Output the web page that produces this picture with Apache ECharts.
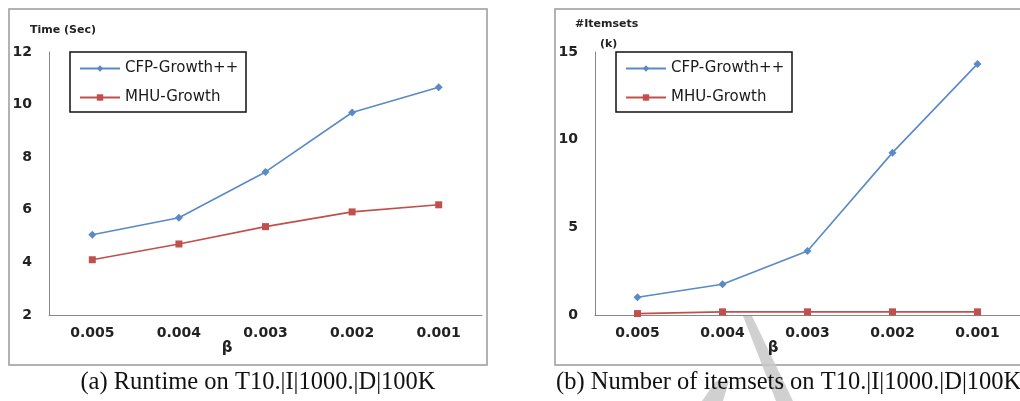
<!DOCTYPE html>
<html>
<head>
<meta charset="utf-8">
<script src="https://cdn.jsdelivr.net/npm/echarts@6/dist/echarts.min.js"></script>
<style>
html,body{margin:0;padding:0;background:#fff;}
#c{width:1020px;height:401px;}
</style>
</head>
<body>
<div id="c"></div>
<script>
const categories = ['0.005', '0.004', '0.003', '0.002', '0.001'];
const seriesNames = ['CFP-Growth++', 'MHU-Growth'];
const runtimeCFP = [5.05, 5.70, 7.44, 9.70, 10.66];
const runtimeMHU = [4.10, 4.70, 5.36, 5.92, 6.19];
const itemsetsCFP = [1.01, 1.75, 3.65, 9.26, 14.32];
const itemsetsMHU = [0.08, 0.18, 0.18, 0.18, 0.18];
const captionA = '(a) Runtime on T10.|I|1000.|D|100K';
const captionB = '(b) Number of itemsets on T10.|I|1000.|D|100K';

const BLUE = '#5A8AC6', RED = '#C0504D', AXIS = '#888888', TXT = '#222222';
const tickFont = {fontFamily: 'DejaVu Sans', fontWeight: 'bold', fontSize: 14, color: TXT};

function xAxis(gi) {
  return {
    type: 'category', gridIndex: gi, data: categories, boundaryGap: true,
    axisLine: {lineStyle: {color: AXIS, width: 1}}, axisTick: {show: false},
    axisLabel: Object.assign({margin: 11, interval: 0}, tickFont)
  };
}
function yAxis(gi, min, max, interval) {
  return {
    type: 'value', gridIndex: gi, min: min, max: max, interval: interval,
    axisLine: {show: true, lineStyle: {color: AXIS, width: 1}}, axisTick: {show: false},
    splitLine: {show: false},
    axisLabel: Object.assign({margin: 17}, tickFont)
  };
}
function line(name, data, gi, color, symbol, size) {
  return {
    name: name, type: 'line', xAxisIndex: gi, yAxisIndex: gi, data: data,
    symbol: symbol, symbolSize: size, color: color,
    lineStyle: {color: color, width: 1.6}, itemStyle: {color: color},
    animation: false
  };
}
function legend(left) {
  return {
    data: seriesNames, orient: 'vertical', left: left, top: 61, padding: 0,
    itemWidth: 40, itemHeight: 8, itemGap: 14, itemTextGap: 4,
    textStyle: {fontFamily: 'DejaVu Sans', fontSize: 15, color: '#1a1a1a'},
    selectedMode: false
  };
}
const chart = echarts.init(document.getElementById('c'), null, {renderer: 'canvas'});
chart.setOption({
  backgroundColor: '#ffffff',
  animation: false,
  grid: [
    {left: 49, top: 52, width: 433, height: 263},
    {left: 595, top: 52, width: 432, height: 263}
  ],
  xAxis: [xAxis(0), xAxis(1)],
  yAxis: [yAxis(0, 2, 12, 2), yAxis(1, 0, 15, 5)],
  legend: [legend(79), legend(625)],
  series: [
    line(seriesNames[0], runtimeCFP, 0, BLUE, 'diamond', 8),
    line(seriesNames[1], runtimeMHU, 0, RED, 'rect', 7),
    line(seriesNames[0], itemsetsCFP, 1, BLUE, 'diamond', 8),
    line(seriesNames[1], itemsetsMHU, 1, RED, 'rect', 7)
  ],
  graphic: [
    {type: 'rect', shape: {x: 9, y: 9, width: 478, height: 356}, style: {fill: 'none', stroke: '#999', lineWidth: 1.5}, z: 1},
    {type: 'rect', shape: {x: 555, y: 9, width: 480, height: 356}, style: {fill: 'none', stroke: '#999', lineWidth: 1.5}, z: 1},
    {type: 'rect', shape: {x: 70, y: 52, width: 176, height: 60}, style: {fill: 'none', stroke: '#111', lineWidth: 1.5}, z: 5},
    {type: 'rect', shape: {x: 616, y: 52, width: 176, height: 60}, style: {fill: 'none', stroke: '#111', lineWidth: 1.5}, z: 5},
    {type: 'text', x: 30, y: 30, style: {text: 'Time (Sec)', fontFamily: 'DejaVu Sans', fontWeight: 'bold', fontSize: 11, fill: TXT, verticalAlign: 'middle'}, z: 5},
    {type: 'text', x: 575, y: 24, style: {text: '#Itemsets', fontFamily: 'DejaVu Sans', fontWeight: 'bold', fontSize: 11, fill: TXT, verticalAlign: 'middle'}, z: 5},
    {type: 'text', x: 600, y: 44, style: {text: '(k)', fontFamily: 'DejaVu Sans', fontWeight: 'bold', fontSize: 11, fill: TXT, verticalAlign: 'middle'}, z: 5},
    {type: 'text', x: 227, y: 348, style: {text: 'β', fontFamily: 'DejaVu Sans', fontWeight: 'bold', fontSize: 15, fill: TXT, align: 'center', verticalAlign: 'middle'}, z: 5},
    {type: 'text', x: 773, y: 348, style: {text: 'β', fontFamily: 'DejaVu Sans', fontWeight: 'bold', fontSize: 15, fill: TXT, align: 'center', verticalAlign: 'middle'}, z: 5},
    {type: 'polygon', shape: {points: [[743, 316], [752, 316], [793, 401], [776, 401]]}, style: {fill: '#c8c8c8', opacity: 0.85}, z: 2},
    {type: 'polygon', shape: {points: [[716, 381], [729, 381], [723, 401], [702, 401]]}, style: {fill: '#c8c8c8', opacity: 0.85}, z: 2},
    {type: 'text', x: 258, y: 383, style: {text: captionA, fontFamily: 'Liberation Serif', fontSize: 24.5, fill: '#111', align: 'center', verticalAlign: 'middle'}, z: 10},
    {type: 'text', x: 556, y: 383, style: {text: captionB, fontFamily: 'Liberation Serif', fontSize: 24.5, fill: '#111', align: 'left', verticalAlign: 'middle'}, z: 10}
  ]
});
</script>
</body>
</html>
